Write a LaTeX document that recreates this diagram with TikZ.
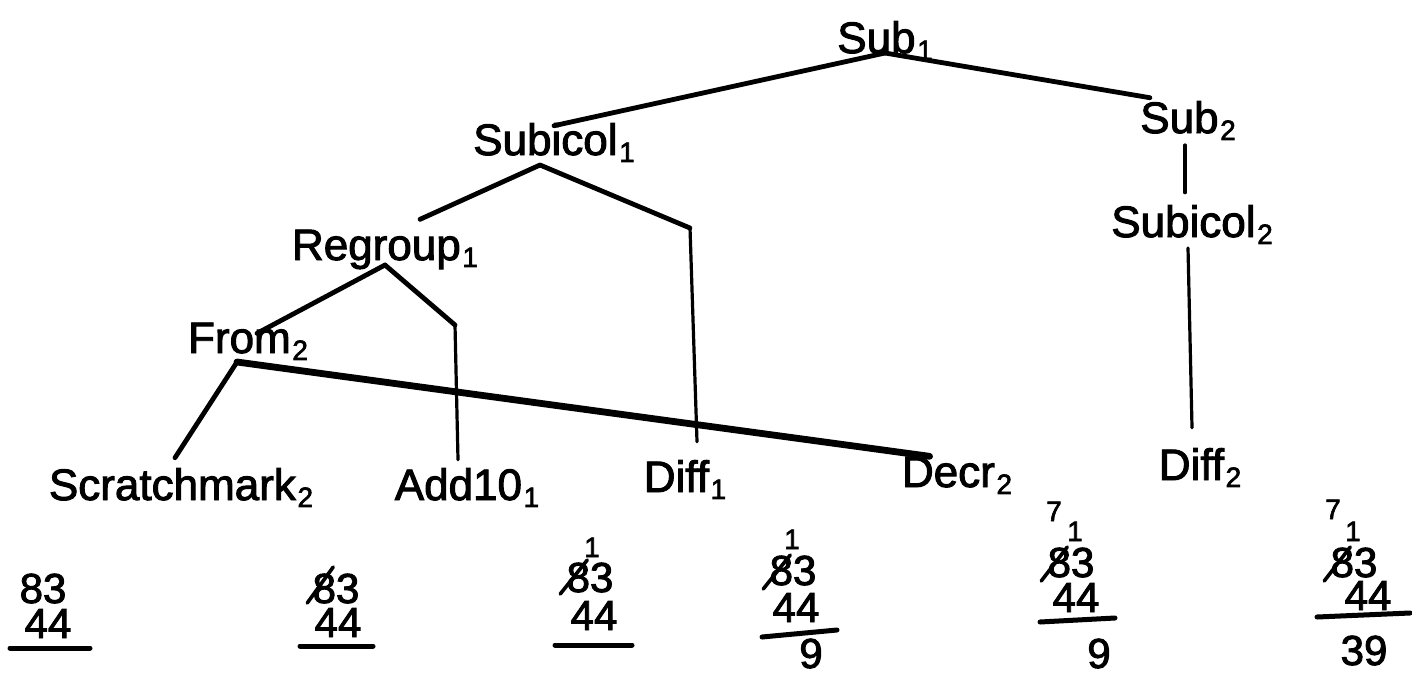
\documentclass[tikz,border=0pt]{standalone}
\usepackage{fontspec}
\setmainfont[FakeBold=2.2]{Liberation Sans}
\usetikzlibrary{calc}
\newcommand\lsub[1]{\kern0.8pt\raisebox{-0.3ex}{\fontsize{14}{14}\selectfont #1}}
\begin{document}
\begin{tikzpicture}[x=0.5pt,y=-0.5pt,
  lbl/.style={inner sep=0pt, anchor=base, font=\fontsize{22}{25}\selectfont},
  dig/.style={inner sep=0pt, anchor=base, font=\fontsize{21}{24}\selectfont},
  small/.style={inner sep=0pt, anchor=base, font=\fontsize{14}{15}\selectfont},
  edge/.style={line width=2.4pt, line cap=round, line join=round},
  thin/.style={line width=1.6pt, line cap=round},
  heavy/.style={line width=3.4pt, line cap=round},
  bar/.style={line width=2.5pt, line cap=round},
  slash/.style={line width=1.8pt, line cap=round}]
\useasboundingbox[fill=white] (0,0) rectangle (1412,675);

% tree labels
\node[lbl] (sub1) at (885,53) {Sub\lsub{1}};
\node[lbl] (subicol1) at (554,155) {Subicol\lsub{1}};
\node[lbl] (sub2) at (1188,133) {Sub\lsub{2}};
\node[lbl] (subicol2) at (1192,237) {Subicol\lsub{2}};
\node[lbl] (regroup1) at (385,260) {Regroup\lsub{1}};
\node[lbl] (from2) at (248,353) {From\lsub{2}};
\node[lbl] (scratch2) at (181,500) {Scratchmark\lsub{2}};
\node[lbl] (add101) at (467,500) {Add10\lsub{1}};
\node[lbl] (diff1) at (685,492) {Diff\lsub{1}};
\node[lbl] (decr2) at (957,487) {Decr\lsub{2}};
\node[lbl] (diff2) at (1200,480) {Diff\lsub{2}};

\coordinate (bend1) at (690,228);
\coordinate (bend2) at (455,325);

% connectors
\draw[edge] (sub1.base) -- ($(subicol1.north)+(0,3)$);
\draw[edge] (sub1.base) -- ($(sub2.north west)+(10,-3)$);
\draw[thin] ($(sub2.base)+(-3,12)$) -- ($(subicol2.north)+(-7,-12)$);
\draw[thin] ($(subicol2.base)+(-4,11)$) -- ($(diff2.north)+(-8,-20)$);

\draw[edge] ($(subicol1.base)+(-14,10)$) -- ($(regroup1.north)+(35,-10)$);
\draw[edge] ($(subicol1.base)+(-14,10)$) -- (bend1);
\draw[thin] (bend1) -- ($(diff1.north)+(12,-18)$);

\draw[edge] ($(regroup1.base)+(0,5)$) -- ($(from2.north)+(9,11)$);
\draw[edge] ($(regroup1.base)+(0,5)$) -- (bend2);
\draw[thin] (bend2) -- ($(add101.north)+(-9,-8)$);

\draw[edge] ($(from2.base)+(-11,9)$) -- ($(scratch2.north)+(-6,-10)$);
\draw[heavy] ($(from2.base)+(-11,9)$) -- ($(decr2.north west)+(28,0)$);

% problem 1
\node[dig] (p1a) at (43,603) {83};
\node[dig] (p1b) at (48,638) {44};
\draw[bar] (10,648) -- (90,648);

% problem 2
\node[dig] (p2a) at (336,603) {83};
\node[dig] (p2b) at (338,637) {44};
\draw[slash] ($(p2a.base west)+(-5,0)$) -- ($(p2a.base west)+(21,-36)$);
\draw[bar] (300,646) -- (373,646);

% problem 3
\node[dig] (p3a) at (590,592) {83};
\node[small] (p3c) at (592,557) {1};
\node[dig] (p3b) at (594,630) {44};
\draw[slash] ($(p3a.base west)+(-6,2)$) -- ($(p3a.base west)+(21,-32)$);
\draw[bar] (555,645) -- (632,645);

% problem 4
\node[dig] (p4a) at (793,585) {83};
\node[small] (p4c) at (792,549) {1};
\node[dig] (p4b) at (796,622) {44};
\draw[slash] ($(p4a.base west)+(-6,4)$) -- ($(p4a.base west)+(21,-30)$);
\draw[bar] (762,637) -- (837,630);
\node[dig] (p4r) at (811,668) {9};

% problem 5
\node[small] (p5s) at (1054,521) {7};
\node[dig] (p5a) at (1071,577) {83};
\node[small] (p5c) at (1075,541) {1};
\node[dig] (p5b) at (1076,612) {44};
\draw[slash] ($(p5a.base west)+(-6,4)$) -- ($(p5a.base west)+(20,-30)$);
\draw[bar] (1040,622) -- (1115,618);
\node[dig] (p5r) at (1099,668) {9};

% problem 6
\node[small] (p6s) at (1333,519) {7};
\node[dig] (p6a) at (1354,577) {83};
\node[small] (p6c) at (1353,541) {1};
\node[dig] (p6b) at (1368,610) {44};
\draw[slash] ($(p6a.base west)+(-6,4)$) -- ($(p6a.base west)+(20,-30)$);
\draw[bar] (1317,617) -- (1410,613);
\node[dig] (p6r) at (1364,665) {39};
\end{tikzpicture}
\end{document}
